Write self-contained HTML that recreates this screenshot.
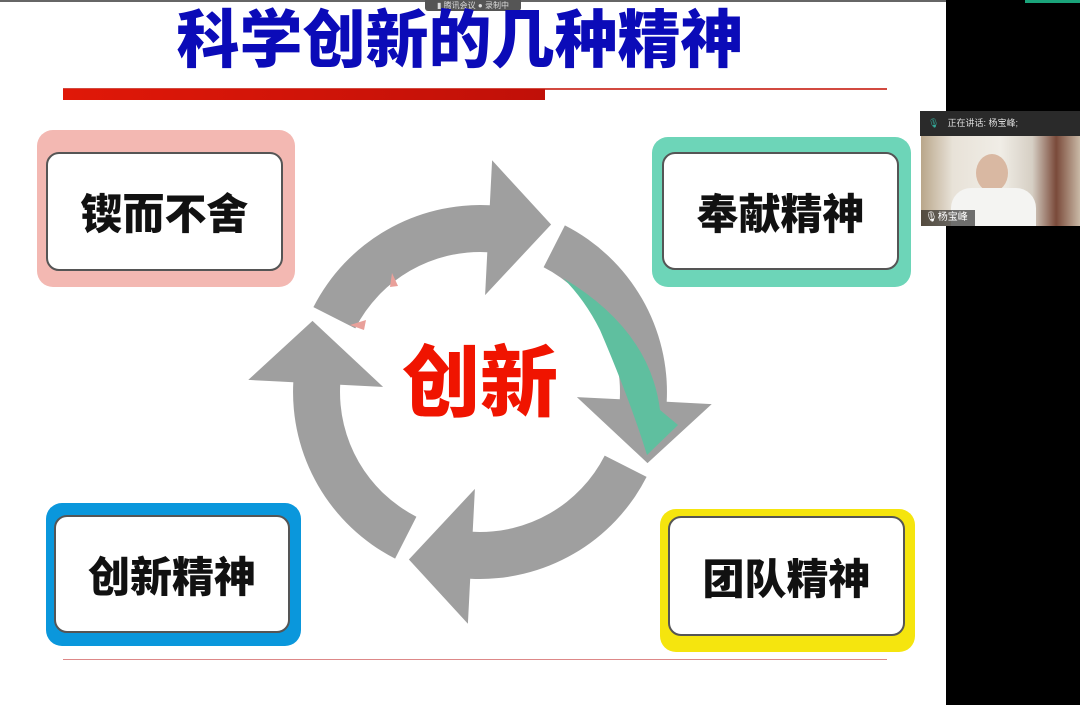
<!DOCTYPE html>
<html><head><meta charset="utf-8">
<style>
html,body{margin:0;padding:0}
body{width:1080px;height:705px;position:relative;overflow:hidden;background:#000;font-family:"Liberation Sans","Noto Sans CJK SC",sans-serif}
#slide{position:absolute;left:0;top:0;width:946px;height:705px;background:#fff}
.title{position:absolute;left:170px;top:1px;width:580px;text-align:center;font-size:63px;font-weight:900;color:#0b0bb8;line-height:80px;letter-spacing:0px;white-space:nowrap}
.outer{position:absolute;border-radius:16px}
.inner{position:absolute;background:#fff;border:2px solid #555;border-radius:13px;box-sizing:border-box;display:flex;align-items:center;justify-content:center;font-size:42px;font-weight:900;color:#111}
</style></head><body>
<div id="slide">
<div style="position:absolute;left:0;top:0;width:946px;height:2px;background:#666"></div>
<div style="position:absolute;left:425px;top:0;width:96px;height:11px;background:#555;border-radius:0 0 3px 3px;color:#ddd;font-size:8px;line-height:11px;text-align:center">▮ 腾讯会议 ● 录制中</div>
<div class="title">科学创新的几种精神</div>
<div style="position:absolute;left:63px;top:88px;width:824px;height:2px;background:#d24a40"></div>
<div style="position:absolute;left:63px;top:89px;width:482px;height:11px;background:linear-gradient(90deg,#e01808,#c01008)"></div>
<div style="position:absolute;left:63px;top:659px;width:824px;height:1px;background:#d88"></div>

<svg width="946" height="705" style="position:absolute;left:0;top:0" id="svg"></svg>
<div style="position:absolute;left:390px;top:335px;width:180px;text-align:center;font-size:78px;font-weight:900;color:#f01400;line-height:96px">创新</div>

<div class="outer" style="left:37px;top:130px;width:258px;height:157px;background:#f3b8b2"></div>
<div class="inner" style="left:46px;top:152px;width:237px;height:119px">锲而不舍</div>
<div class="outer" style="left:652px;top:137px;width:259px;height:150px;background:#6dd5b8"></div>
<div class="inner" style="left:662px;top:152px;width:237px;height:118px">奉献精神</div>
<div class="outer" style="left:46px;top:503px;width:255px;height:143px;background:#0a97dc"></div>
<div class="inner" style="left:54px;top:515px;width:236px;height:118px">创新精神</div>
<div class="outer" style="left:660px;top:509px;width:255px;height:143px;background:#f5e50e"></div>
<div class="inner" style="left:668px;top:516px;width:237px;height:120px">团队精神</div>
</div>

<div style="position:absolute;left:1025px;top:0;width:55px;height:3px;background:#1aa37a"></div>
<div style="position:absolute;left:920px;top:111px;width:160px;height:25px;background:#2a2a2a;color:#ddd;font-size:9px;line-height:25px">
<span style="color:#3a9;margin-left:8px">🎙</span><span style="margin-left:8px">正在讲话: 杨宝峰;</span></div>
<div style="position:absolute;left:921px;top:136px;width:159px;height:90px;background:linear-gradient(90deg,#b9a68a 0,#e8e2d8 20%,#f0ede6 50%,#d6cfc4 70%,#7a4a3a 85%,#c9b9a6 100%)">
<div style="position:absolute;left:55px;top:18px;width:32px;height:38px;border-radius:50%;background:#d9b8a2"></div>
<div style="position:absolute;left:30px;top:52px;width:85px;height:38px;border-radius:20px 20px 0 0;background:#f4f4f2"></div>
<div style="position:absolute;left:0;bottom:0;height:16px;width:50px;background:rgba(0,0,0,.55);color:#fff;font-size:10px;line-height:16px;padding-left:4px">🎙杨宝峰</div>
</div>

<script>
var s=document.getElementById('svg'),cx=480,cy=392,R=187,r=140,m=163.5,hi=97,ho=232;
function P(rad,a){a=a*Math.PI/180;return (cx+rad*Math.cos(a)).toFixed(1)+','+(cy+rad*Math.sin(a)).toFixed(1)}
var h='';
for(var k=0;k<4;k++){
 var t=-153+90*k,b=-87+90*k,tip=-67+90*k;
 h+='<path fill="#9f9f9f" d="M'+P(R,t)+' A'+R+','+R+' 0 0 1 '+P(R,b)+' L'+P(ho,b)+' L'+P(182,tip)+' L'+P(hi,b)+' L'+P(r,b)+' A'+r+','+r+' 0 0 0 '+P(r,t)+' Z"/>';
}
h+='<path fill="#5fbf9f" d="M563,278 Q650,330 660,410 L678,425 L647,455 Q630,400 600,330 Q585,300 563,278 Z"/>';
h+='<path fill="#e9a09a" d="M392,273 L398,286 L390,287 Z"/><path fill="#e9a09a" d="M350,325 L366,320 L364,330 Z"/>';
s.innerHTML=h;
</script>
</body></html>
